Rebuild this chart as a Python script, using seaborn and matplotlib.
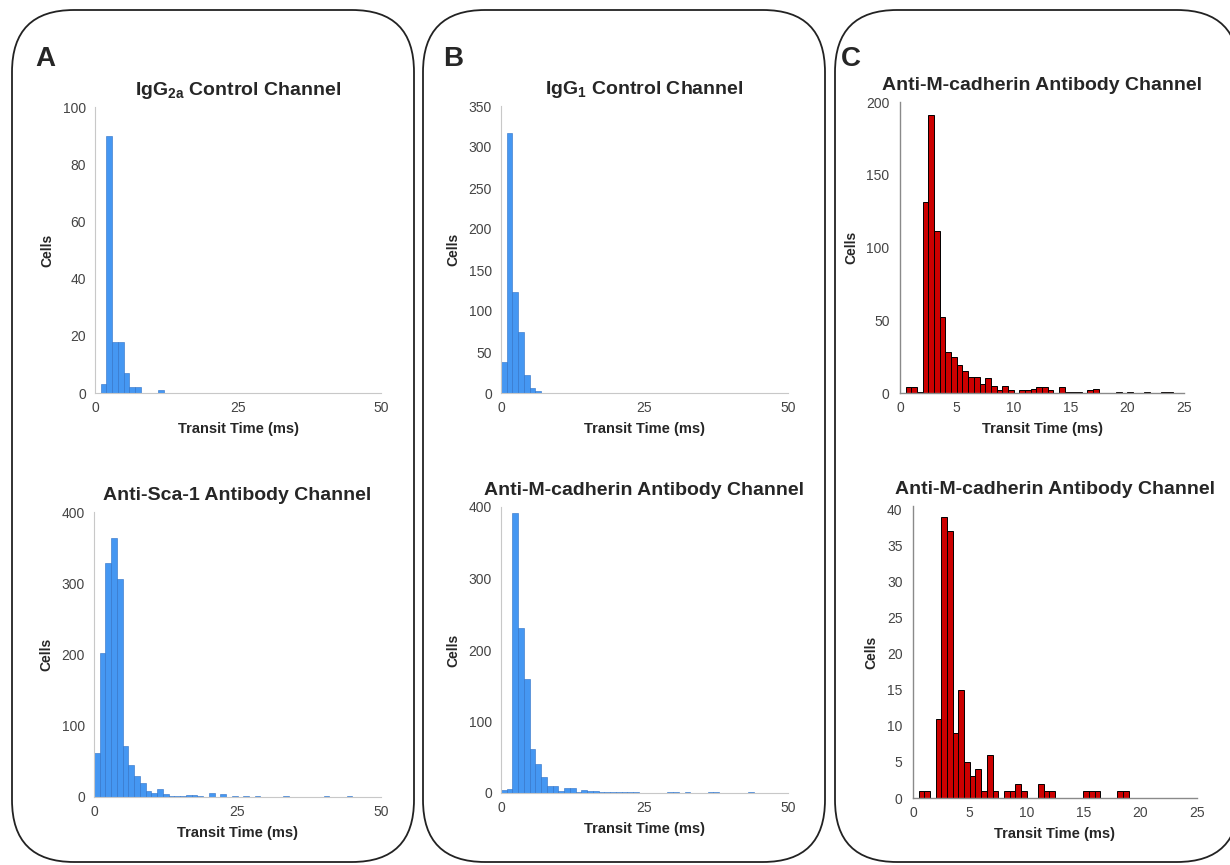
import numpy as np
import pandas as pd
import seaborn as sns
import matplotlib.pyplot as plt
from matplotlib.patches import FancyBboxPatch
from matplotlib.ticker import MultipleLocator

# histogram counts (bins start at 0)
# A / B panels: 1 ms bins, C panels: 0.5 ms bins
igg2a_counts = [0, 3, 90, 18, 18, 7, 2, 2, 0, 0, 0, 1]
sca1_counts = [62, 202, 328, 364, 306, 71, 45, 29, 20, 9, 6, 11, 4, 2, 1, 2, 3, 3, 1, 0,
               6, 0, 4, 0, 2, 0, 2, 0, 2, 0, 0, 0, 0, 2, 0, 0, 0, 0, 0, 0,
               2, 0, 0, 0, 2]
igg1_counts = [38, 317, 123, 74, 22, 6, 3]
mcad_b_counts = [4, 5, 391, 231, 160, 61, 41, 22, 10, 10, 3, 7, 7, 1, 4, 3, 3, 2, 1, 1,
                 1, 1, 1, 2, 0, 0, 0, 0, 0, 1, 1, 0, 1, 0, 0, 0, 1, 1, 0, 0,
                 0, 0, 0, 1]
mcad_c1_counts = [0, 4, 4, 1, 131, 191, 111, 52, 28, 25, 19, 15, 11, 11, 6, 10, 5, 2, 5, 2,
                  0, 2, 2, 3, 4, 4, 2, 0, 4, 1, 1, 1, 0, 2, 3, 0, 0, 0, 1, 0,
                  1, 0, 0, 1, 0, 0, 1, 1]
mcad_c2_counts = [0, 1, 1, 0, 11, 39, 37, 9, 15, 5, 3, 4, 1, 6, 1, 0, 1, 1, 2, 1,
                  0, 0, 2, 1, 1, 0, 0, 0, 0, 0, 1, 1, 1, 0, 0, 0, 1, 1]

blue = "#4597f2"
blue_edge = "#2d6fc4"
red = "#cc0000"

sns.set_style("white")
plt.rcParams["font.family"] = ["Liberation Sans", "DejaVu Sans"]
plt.rcParams["mathtext.fontset"] = "custom"
plt.rcParams["mathtext.rm"] = "Liberation Sans"
plt.rcParams["mathtext.bf"] = "Liberation Sans:bold"

W, H = 1230, 865
fig = plt.figure(figsize=(W / 100, H / 100), dpi=100)

# rounded boxes around each column (in inches), the last one runs off the right edge
# (white fill + zorder -1 so they sit behind the axes)
for x0, x1 in [(0.12, 4.14), (4.23, 8.25), (8.35, 12.39)]:
    box = FancyBboxPatch((x0, 0.03), x1 - x0, 8.52,
                         boxstyle="round,pad=0,rounding_size=0.62",
                         transform=fig.dpi_scale_trans, facecolor="white",
                         edgecolor="#222222", linewidth=1.3, zorder=-1)
    fig.add_artist(box)

for lab, x in [("A", 45), ("B", 453), ("C", 851)]:
    fig.text(x / W, 1 - 59 / H, lab, fontsize=20, fontweight="bold",
             ha="center", va="center")


def make_ax(left, right, bottom, top):
    return fig.add_axes([left / W, 1 - bottom / H, (right - left) / W, (bottom - top) / H])


def draw_hist(ax, counts, width, color, edge, lw):
    n = len(counts)
    df = pd.DataFrame({"t": (np.arange(n) + 0.5) * width, "n": counts})
    sns.histplot(data=df, x="t", weights="n", binwidth=width, binrange=(0, n * width),
                 color=color, edgecolor=edge, linewidth=lw, alpha=1, ax=ax)


def style_blue(ax, ymax, ystep, yminor, title):
    ax.set_xlim(0, 50)
    ax.set_ylim(0, ymax)
    ax.set_xticks([0, 25, 50])
    ax.set_yticks(np.arange(0, ymax + 1, ystep))
    ax.xaxis.set_minor_locator(MultipleLocator(2.5))
    ax.yaxis.set_minor_locator(MultipleLocator(yminor))
    sns.despine(ax=ax)
    for s in ["left", "bottom"]:
        ax.spines[s].set_color("#c8c8c8")
        ax.spines[s].set_linewidth(0.8)
    ax.tick_params(axis="both", which="major", labelsize=10, labelcolor="#444444",
                   color="#c8c8c8", length=3, width=0.6)
    ax.tick_params(axis="x", which="both", direction="in", pad=6)
    ax.tick_params(axis="both", which="minor", color="#d0d0d0", length=2, width=0.5)
    ax.set_title(title, fontsize=14, fontweight="bold", pad=9)
    ax.set_ylabel("Cells", fontsize=10, fontweight="bold", labelpad=6)
    ax.set_xlabel("Transit Time (ms)", fontsize=10.5, fontweight="bold", labelpad=5)


def style_red(ax, ymax, ystep, yminor, title):
    ax.set_xlim(0, 25)
    ax.set_ylim(0, ymax)
    ax.set_xticks(np.arange(0, 26, 5))
    ax.set_yticks(np.arange(0, ymax + 0.5, ystep))
    ax.xaxis.set_minor_locator(MultipleLocator(1))
    ax.yaxis.set_minor_locator(MultipleLocator(yminor))
    sns.despine(ax=ax)
    for s in ["left", "bottom"]:
        ax.spines[s].set_color("#8a8a8a")
        ax.spines[s].set_linewidth(1.0)
    ax.tick_params(axis="both", which="major", labelsize=10, labelcolor="#444444",
                   color="#8a8a8a", length=4, width=0.8)
    ax.tick_params(axis="x", which="both", direction="in", pad=6)
    ax.tick_params(axis="both", which="minor", color="#8a8a8a", length=2, width=0.6)
    ax.set_title(title, fontsize=14, fontweight="bold", pad=9)
    ax.set_ylabel("Cells", fontsize=10, fontweight="bold", labelpad=6)
    ax.set_xlabel("Transit Time (ms)", fontsize=10.5, fontweight="bold", labelpad=5)


# A
ax = make_ax(95, 381, 393, 107)
draw_hist(ax, igg2a_counts, 1, blue, blue_edge, 0.4)
style_blue(ax, 100, 20, 5, r"IgG$_{\mathbf{2a}}$ Control Channel")

ax = make_ax(94, 381, 797, 512)
draw_hist(ax, sca1_counts, 1, blue, blue_edge, 0.4)
style_blue(ax, 400, 100, 10, "Anti-Sca-1 Antibody Channel")

# B
ax = make_ax(501, 788, 393, 106)
draw_hist(ax, igg1_counts, 1, blue, blue_edge, 0.4)
style_blue(ax, 350, 50, 10, r"IgG$_{\mathbf{1}}$ Control Channel")

ax = make_ax(501, 788, 793, 507)
draw_hist(ax, mcad_b_counts, 1, blue, blue_edge, 0.4)
style_blue(ax, 400, 100, 10, "Anti-M-cadherin Antibody Channel")

# C
ax = make_ax(900, 1184, 393, 102)
draw_hist(ax, mcad_c1_counts, 0.5, red, "black", 0.7)
style_red(ax, 200, 50, 10, "Anti-M-cadherin Antibody Channel")

ax = make_ax(913, 1197, 798, 506)
draw_hist(ax, mcad_c2_counts, 0.5, red, "black", 0.7)
style_red(ax, 40.5, 5, 1, "Anti-M-cadherin Antibody Channel")
ax.set_yticks(np.arange(0, 41, 5))

fig.savefig("out.png", dpi=100)
